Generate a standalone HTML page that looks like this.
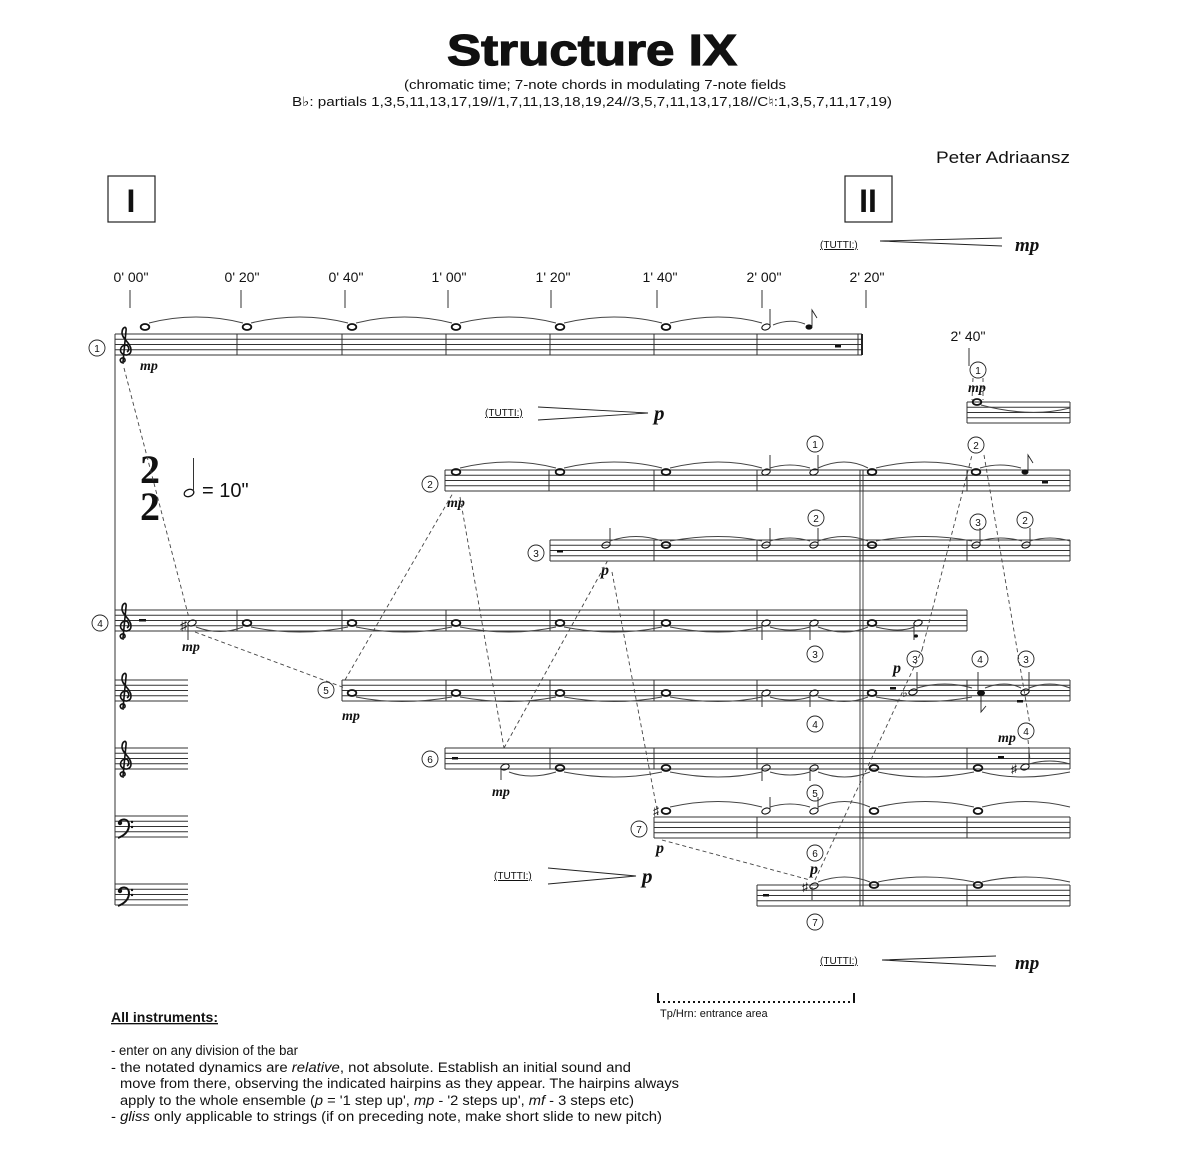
<!DOCTYPE html>
<html><head><meta charset="utf-8">
<style>
html,body{margin:0;padding:0;background:#fff;}
svg{display:block;}
text{font-family:"Liberation Sans",sans-serif;fill:#111;}
text.n,.n text{font-family:"Liberation Sans Narrow","Liberation Sans",sans-serif;}
text.dyn,.dyn text{font-family:"Liberation Serif",serif;font-style:italic;font-weight:bold;}
.st{fill:none;stroke:#333;stroke-width:1;}
.bl{stroke:#333;stroke-width:1;}
.ds{fill:none;stroke:#444;stroke-width:0.9;stroke-dasharray:4 3;}
.tie{fill:none;stroke:#444;stroke-width:1;}
.c{fill:none;stroke:#222;stroke-width:0.9;}
.cn text{font-size:10px;text-anchor:middle;}
</style></head><body>
<svg width="1190" height="1173" viewBox="0 0 1190 1173" xmlns="http://www.w3.org/2000/svg">
<defs>
<g id="st"><path d="M0 0H1M0 5.25H1M0 10.5H1M0 15.75H1M0 21H1" stroke="#333" stroke-width="0.9" fill="none"/></g>
<g id="tc"><path d="M6 30 C2 30 1 26 4 25 C7 24 8 28 6 29 M5 29 L8 -2 C9 -8 4 -6 4 0 C4 6 13 10 13 17 C13 22 8 23 5 21 C1 19 2 13 7 12 C11 12 12 17 9 19" fill="none" stroke="#111" stroke-width="1.6"/></g>
<g id="bc"><path d="M2 4 C3 -1 12 -1 12 6 C12 13 6 17 1 19" fill="none" stroke="#111" stroke-width="2"/><circle cx="3" cy="4" r="2.2" fill="#111"/><circle cx="15" cy="3" r="1.2" fill="#111"/><circle cx="15" cy="8" r="1.2" fill="#111"/></g>
<ellipse id="wn" cx="0" cy="0" rx="4.3" ry="3" fill="none" stroke="#111" stroke-width="1.8"/>
<ellipse id="hn" cx="0" cy="0" rx="4.3" ry="2.8" fill="none" stroke="#111" stroke-width="1.1" transform="rotate(-20)"/>
</defs>

<!-- Title -->
<text x="592" y="65" font-size="44" font-weight="bold" text-anchor="middle" textLength="290" lengthAdjust="spacingAndGlyphs" stroke="#111" stroke-width="1.2">Structure IX</text>
<text x="595" y="89" font-size="13" text-anchor="middle" class="n" textLength="382" lengthAdjust="spacingAndGlyphs">(chromatic time; 7-note chords in modulating 7-note fields</text>
<text x="592" y="106" font-size="13" text-anchor="middle" class="n" textLength="600" lengthAdjust="spacingAndGlyphs">B♭: partials 1,3,5,11,13,17,19//1,7,11,13,18,19,24//3,5,7,11,13,17,18//C♮:1,3,5,7,11,17,19)</text>
<text x="936" y="163" font-size="17" class="n" textLength="134" lengthAdjust="spacingAndGlyphs">Peter Adriaansz</text>

<rect x="108" y="176" width="47" height="46" fill="none" stroke="#222" stroke-width="1.2"/>
<text x="131" y="212" font-size="32" font-weight="bold" text-anchor="middle">I</text>
<rect x="845" y="176" width="47" height="46" fill="none" stroke="#222" stroke-width="1.2"/>
<text x="868" y="212" font-size="32" font-weight="bold" text-anchor="middle">II</text>

<!-- tutti hairpins -->
<text x="820" y="248" font-size="10" text-decoration="underline">(TUTTI:)</text>
<path d="M880 241 L1002 238 M880 241 L1002 246" class="c"/>
<text x="1015" y="251" font-size="19" class="dyn">mp</text>
<text x="485" y="416" font-size="10" text-decoration="underline">(TUTTI:)</text>
<path d="M538 407 L648 413 L538 420" class="c"/>
<text x="654" y="420" font-size="21" class="dyn">p</text>
<text x="494" y="879" font-size="10" text-decoration="underline">(TUTTI:)</text>
<path d="M548 868 L636 876 L548 884" class="c"/>
<text x="642" y="883" font-size="21" class="dyn">p</text>
<text x="820" y="964" font-size="10" text-decoration="underline">(TUTTI:)</text>
<path d="M882 960 L996 956 M882 960 L996 966" class="c"/>
<text x="1015" y="969" font-size="19" class="dyn">mp</text>

<!-- time labels -->
<g font-size="14" text-anchor="middle" class="n">
<text x="131" y="282">0' 00"</text><text x="242" y="282">0' 20"</text><text x="346" y="282">0' 40"</text><text x="449" y="282">1' 00"</text><text x="553" y="282">1' 20"</text><text x="660" y="282">1' 40"</text><text x="764" y="282">2' 00"</text><text x="867" y="282">2' 20"</text><text x="968" y="341">2' 40"</text>
</g>
<path d="M130 290V308M241 290V308M345 290V308M448 290V308M551 290V308M657 290V308M762 290V308M866 290V308M969 348V366" class="bl"/>

<!-- staves -->
<use href="#st" transform="translate(115,334) scale(747,1)"/>
<use href="#st" transform="translate(967,402) scale(103,1)"/>
<use href="#st" transform="translate(445,470) scale(625,1)"/>
<use href="#st" transform="translate(550,540) scale(520,1)"/>
<use href="#st" transform="translate(115,610) scale(852,1)"/>
<use href="#st" transform="translate(115,680) scale(73,1)"/>
<use href="#st" transform="translate(342,680) scale(728,1)"/>
<use href="#st" transform="translate(115,748) scale(73,1)"/>
<use href="#st" transform="translate(445,748) scale(625,1)"/>
<use href="#st" transform="translate(115,816) scale(73,1)"/>
<use href="#st" transform="translate(654,817) scale(416,1)"/>
<use href="#st" transform="translate(115,884) scale(73,1)"/>
<use href="#st" transform="translate(757,885) scale(313,1)"/>

<!-- system line + barlines -->
<path d="M115 334V905" class="bl"/>
<path d="M237 334v21M342 334v21M446 334v21M550 334v21M654 334v21M757 334v21M858 334v21" class="bl"/>
<path d="M862 334v21" stroke="#222" stroke-width="2"/>
<path d="M967 402v21M1070 402v21" class="bl"/>
<path d="M445 470v21M549 470v21M654 470v21M757 470v21M860 470v21M863 470v21M967 470v21M1070 470v21" class="bl"/>
<path d="M550 540v21M654 540v21M757 540v21M860 540v21M863 540v21M967 540v21M1070 540v21" class="bl"/>
<path d="M237 610v21M342 610v21M446 610v21M550 610v21M654 610v21M757 610v21M860 610v21M863 610v21M967 610v21" class="bl"/>
<path d="M342 680v21M446 680v21M550 680v21M654 680v21M757 680v21M860 680v21M863 680v21M967 680v21M1070 680v21" class="bl"/>
<path d="M445 748v21M550 748v21M654 748v21M757 748v21M860 748v21M863 748v21M967 748v21M1070 748v21" class="bl"/>
<path d="M654 817v21M757 817v21M860 817v21M863 817v21M967 817v21M1070 817v21" class="bl"/>
<path d="M757 885v21M860 885v21M863 885v21M967 885v21M1070 885v21" class="bl"/>
<path d="M860 470V906M863 470V906" stroke="#333" stroke-width="0.9" fill="none"/>

<!-- clefs -->
<use href="#tc" transform="translate(118,333)"/>
<use href="#tc" transform="translate(118,609)"/>
<use href="#tc" transform="translate(118,679)"/>
<use href="#tc" transform="translate(118,747)"/>
<use href="#bc" transform="translate(117,819)"/>
<use href="#bc" transform="translate(117,887)"/>

<!-- time sig -->
<text x="150" y="483" font-size="40" font-weight="bold" text-anchor="middle" style="font-family:'Liberation Serif',serif">2</text>
<text x="150" y="520" font-size="40" font-weight="bold" text-anchor="middle" style="font-family:'Liberation Serif',serif">2</text>
<ellipse cx="189" cy="493" rx="5" ry="3.5" fill="none" stroke="#111" stroke-width="1.3" transform="rotate(-20 189 493)"/>
<path d="M193.5 491V458" class="bl"/>
<text x="202" y="497" font-size="20" class="n">= 10"</text>

<!-- instrument circles -->
<g class="c"><circle cx="97" cy="348" r="8"/><circle cx="100" cy="623" r="8"/><circle cx="430" cy="484" r="8"/><circle cx="536" cy="553" r="8"/><circle cx="326" cy="690" r="8"/><circle cx="430" cy="759" r="8"/><circle cx="639" cy="829" r="8"/><circle cx="815" cy="444" r="8"/><circle cx="816" cy="518" r="8"/><circle cx="978" cy="522" r="8"/><circle cx="1025" cy="520" r="8"/><circle cx="815" cy="654" r="8"/><circle cx="815" cy="724" r="8"/><circle cx="815" cy="793" r="8"/><circle cx="815" cy="853" r="8"/><circle cx="815" cy="922" r="8"/><circle cx="978" cy="370" r="8"/><circle cx="976" cy="445" r="8"/><circle cx="915" cy="659" r="8"/><circle cx="980" cy="659" r="8"/><circle cx="1026" cy="659" r="8"/><circle cx="1026" cy="731" r="8"/></g>
<g class="cn"><text x="97" y="352">1</text><text x="100" y="627">4</text><text x="430" y="488">2</text><text x="536" y="557">3</text><text x="326" y="694">5</text><text x="430" y="763">6</text><text x="639" y="833">7</text><text x="815" y="448">1</text><text x="816" y="522">2</text><text x="978" y="526">3</text><text x="1025" y="524">2</text><text x="815" y="658">3</text><text x="815" y="728">4</text><text x="815" y="797">5</text><text x="815" y="857">6</text><text x="815" y="926">7</text><text x="978" y="374">1</text><text x="976" y="449">2</text><text x="915" y="663">3</text><text x="980" y="663">4</text><text x="1026" y="663">3</text><text x="1026" y="735">4</text></g>

<!-- dynamics -->
<g font-size="14" class="dyn">
<text x="140" y="370">mp</text><text x="182" y="651">mp</text><text x="447" y="507">mp</text><text x="342" y="720">mp</text><text x="492" y="796">mp</text><text x="968" y="392">mp</text><text x="998" y="742">mp</text>
</g>
<g font-size="16" class="dyn">
<text x="601" y="575">p</text><text x="656" y="853">p</text><text x="893" y="673">p</text><text x="810" y="874">p</text>
</g>

<!-- notes staff 1 -->
<g><use href="#wn" x="145" y="327"/><use href="#wn" x="247" y="327"/><use href="#wn" x="352" y="327"/><use href="#wn" x="456" y="327"/><use href="#wn" x="560" y="327"/><use href="#wn" x="666" y="327"/></g>
<use href="#hn" x="766" y="327"/><path d="M770 326V309" class="bl"/>
<ellipse cx="809" cy="327" rx="3.5" ry="2.6" fill="#111"/><path d="M812 326V310l5 8" class="c"/>
<rect x="835" y="345" width="6" height="2.5" fill="#111"/>
<path d="M149 323 Q196 311 243 323 M251 323 Q300 311 348 323 M356 323 Q405 311 452 323 M460 323 Q510 311 556 323 M564 323 Q615 311 662 323 M670 323 Q720 311 762 323 M773 325 Q790 318 805 324" class="tie"/>
<use href="#wn" x="977" y="402"/><path d="M981 405 Q1030 418 1070 408" class="tie"/>

<!-- staff 2 -->
<g><use href="#wn" x="456" y="472"/><use href="#wn" x="560" y="472"/><use href="#wn" x="666" y="472"/><use href="#wn" x="872" y="472"/><use href="#wn" x="976" y="472"/></g>
<use href="#hn" x="766" y="472"/><path d="M770 471V455" class="bl"/><use href="#hn" x="814" y="472"/><path d="M818 471V455" class="bl"/>
<ellipse cx="1025" cy="472" rx="3.5" ry="2.6" fill="#111"/><path d="M1028 471V455l5 8" class="c"/><rect x="1042" y="481" width="6" height="2.5" fill="#111"/>
<path d="M460 468 Q510 456 556 468 M564 468 Q615 456 662 468 M670 468 Q720 456 762 468 M770 468 Q790 462 810 468 M818 468 Q845 456 868 468 M876 468 Q925 456 972 468 M980 468 Q1000 462 1021 468" class="tie"/>

<!-- staff 3 -->
<rect x="557" y="550" width="6" height="2.5" fill="#111"/>
<use href="#hn" x="606" y="545"/><path d="M610 544V528" class="bl"/>
<g><use href="#wn" x="666" y="545"/><use href="#wn" x="872" y="545"/></g>
<use href="#hn" x="766" y="545"/><path d="M770 544V528" class="bl"/><use href="#hn" x="814" y="545"/><path d="M818 544V528" class="bl"/>
<use href="#hn" x="976" y="545"/><path d="M980 544V528" class="bl"/><use href="#hn" x="1026" y="545"/><path d="M1030 544V528" class="bl"/>
<path d="M610 541 Q636 532 662 541 M670 541 Q720 532 762 541 M770 541 Q790 535 810 541 M818 541 Q845 532 868 541 M876 541 Q925 532 972 541 M980 541 Q1000 535 1022 541 M1030 541 Q1050 535 1070 541" class="tie"/>

<!-- staff 4 -->
<rect x="139" y="619" width="7" height="2.5" fill="#111"/>
<text x="180" y="630" font-size="14">♯</text><use href="#hn" x="192" y="623"/><path d="M188 624V640" class="bl"/>
<g><use href="#wn" x="247" y="623"/><use href="#wn" x="352" y="623"/><use href="#wn" x="456" y="623"/><use href="#wn" x="560" y="623"/><use href="#wn" x="666" y="623"/><use href="#wn" x="872" y="623"/></g>
<use href="#hn" x="766" y="623"/><path d="M762 624V640" class="bl"/><use href="#hn" x="814" y="623"/><path d="M810 624V640" class="bl"/>
<use href="#hn" x="918" y="623"/><path d="M914 624V640" class="bl"/><ellipse cx="916" cy="636" rx="2" ry="1.6" fill="#111"/>
<path d="M196 627 Q220 636 243 627 M251 627 Q300 637 348 627 M356 627 Q405 637 452 627 M460 627 Q510 637 556 627 M564 627 Q615 637 662 627 M670 627 Q720 637 762 627 M770 627 Q790 633 810 627 M818 627 Q845 637 868 627 M876 627 Q900 633 914 627" class="tie"/>

<!-- staff 5 -->
<g><use href="#wn" x="352" y="693"/><use href="#wn" x="456" y="693"/><use href="#wn" x="560" y="693"/><use href="#wn" x="666" y="693"/><use href="#wn" x="872" y="693"/></g>
<use href="#hn" x="766" y="693"/><path d="M762 694V707" class="bl"/><use href="#hn" x="814" y="693"/><path d="M810 694V707" class="bl"/>
<rect x="890" y="687" width="6" height="2.5" fill="#111"/><text x="902" y="697" font-size="12">♭</text><use href="#hn" x="913" y="692"/><path d="M917 691V672" class="bl"/>
<ellipse cx="981" cy="693" rx="4" ry="3" fill="#111"/><path d="M981 695V712l5-6" class="c"/><path d="M978 691V672" class="bl"/>
<use href="#hn" x="1025" y="692"/><path d="M1029 691V672" class="bl"/><rect x="1017" y="700" width="6" height="2.5" fill="#111"/>
<path d="M356 697 Q400 706 452 697 M460 697 Q510 706 556 697 M564 697 Q615 706 662 697 M670 697 Q720 706 762 697 M770 697 Q790 703 810 697 M818 697 Q845 706 868 697 M876 697 Q925 706 972 697 M917 688 Q945 680 972 688 M985 688 Q1005 680 1021 688 M1029 688 Q1050 680 1070 688" class="tie"/>

<!-- staff 6 -->
<rect x="452" y="757" width="6" height="2.5" fill="#111"/>
<use href="#hn" x="505" y="767"/><path d="M501 768V780" class="bl"/>
<g><use href="#wn" x="560" y="768"/><use href="#wn" x="666" y="768"/><use href="#wn" x="874" y="768"/><use href="#wn" x="978" y="768"/></g>
<use href="#hn" x="766" y="768"/><path d="M762 769V781" class="bl"/><use href="#hn" x="814" y="768"/><path d="M810 769V781" class="bl"/>
<rect x="998" y="756" width="6" height="2.5" fill="#111"/><text x="1011" y="773" font-size="12">♯</text><use href="#hn" x="1025" y="767"/><path d="M1029 766V748" class="bl"/>
<path d="M509 772 Q530 780 556 772 M564 772 Q615 782 662 772 M670 772 Q720 782 762 772 M770 772 Q790 778 810 772 M818 772 Q845 782 870 772 M878 772 Q925 782 974 772 M982 772 Q1020 782 1070 772 M1029 764 Q1050 758 1070 764" class="tie"/>

<!-- staff 7 -->
<text x="653" y="815" font-size="12">♯</text><use href="#wn" x="666" y="811"/>
<use href="#hn" x="766" y="811"/><path d="M770 810V797" class="bl"/><use href="#hn" x="814" y="811"/><path d="M818 810V797" class="bl"/>
<g><use href="#wn" x="874" y="811"/><use href="#wn" x="978" y="811"/></g>
<path d="M670 807 Q720 796 762 807 M770 807 Q790 801 810 807 M818 807 Q845 796 870 807 M878 807 Q925 796 974 807 M982 807 Q1025 796 1070 807" class="tie"/>

<!-- staff 8 -->
<rect x="763" y="894" width="6" height="2.5" fill="#111"/>
<text x="802" y="891" font-size="12">♯</text><use href="#hn" x="814" y="886"/><path d="M812 887V900" class="bl"/>
<g><use href="#wn" x="874" y="885"/><use href="#wn" x="978" y="885"/></g>
<path d="M818 882 Q845 872 870 882 M878 882 Q925 872 974 882 M982 882 Q1025 872 1070 882" class="tie"/>

<!-- dashed connectors -->
<path class="ds" d="M124 368 L189 618 M195 632 L345 688 M345 680 L453 493 M460 497 L504 748 M504 748 L608 560 M612 572 L658 815 M662 840 L810 880 M815 880 L922 650 M922 650 L972 455 M984 455 L1030 725 M1028 740 L1030 760 M973 378 L972 400 M983 378 L983 400"/>

<!-- entrance area -->
<path d="M658 993 V1003 M854 993 V1003" stroke="#111" stroke-width="2"/>
<path d="M658 1002 H854" stroke="#111" stroke-width="2" stroke-dasharray="2 3"/>
<text x="660" y="1017" font-size="11" class="n">Tp/Hrn: entrance area</text>

<!-- notes text -->
<g font-size="13.5" class="n">
<text x="111" y="1022" text-decoration="underline" font-weight="bold" textLength="107" lengthAdjust="spacingAndGlyphs">All instruments:</text>
<text x="111" y="1055" textLength="187" lengthAdjust="spacingAndGlyphs">- enter on any division of the bar</text>
<text x="111" y="1072" textLength="520" lengthAdjust="spacingAndGlyphs">- the notated dynamics are <tspan font-style="italic">relative</tspan>, not absolute. Establish an initial sound and</text>
<text x="120" y="1088" textLength="559" lengthAdjust="spacingAndGlyphs">move from there, observing the indicated hairpins as they appear. The hairpins always</text>
<text x="120" y="1105" textLength="514" lengthAdjust="spacingAndGlyphs">apply to the whole ensemble (<tspan font-style="italic">p</tspan> = '1 step up', <tspan font-style="italic">mp</tspan> - '2 steps up', <tspan font-style="italic">mf</tspan> - 3 steps etc)</text>
<text x="111" y="1121" textLength="551" lengthAdjust="spacingAndGlyphs">- <tspan font-style="italic">gliss</tspan> only applicable to strings (if on preceding note, make short slide to new pitch)</text>
</g>
</svg>
</body></html>
